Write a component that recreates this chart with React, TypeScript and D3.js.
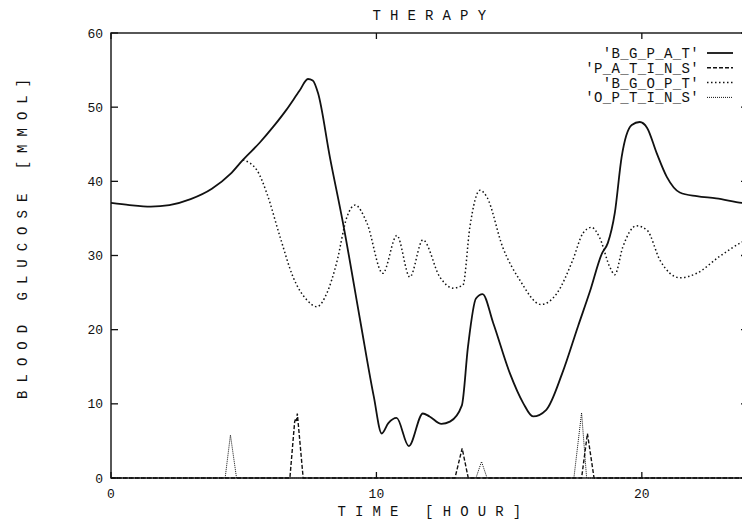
import React from 'react';
import * as d3 from 'd3';

// glucose of the patient (solid)
const bgpatTime = [0, 0.7, 1.5, 2.2, 3.0, 3.8, 4.5, 4.97, 5.6, 6.1, 6.6, 7.1, 7.42, 7.6, 7.8, 8.25, 8.74, 9.4, 9.9, 10.2, 10.45, 10.76, 11.22, 11.75, 12.0, 12.45, 12.77, 13.22, 13.45, 13.75, 14.0, 14.4, 15.03, 15.53, 15.9, 16.4, 17.0, 17.6, 18.04, 18.5, 18.72, 18.98, 19.24, 19.62, 19.92, 20.2, 20.56, 20.94, 21.43, 22.07, 22.8, 23.77, 24];
const bgpatValue = [37.1, 36.8, 36.6, 36.8, 37.6, 39.0, 41.0, 42.9, 45.2, 47.3, 49.6, 52.2, 53.8, 53.6, 51.9, 43.2, 34.4, 21.0, 11.0, 6.0, 7.4, 8.1, 4.3, 8.7, 8.3, 7.3, 7.6, 9.8, 17.7, 24.2, 24.8, 20.9, 14.1, 10.1, 8.3, 9.2, 14.1, 20.5, 25.1, 30.3, 31.7, 35.7, 43.3, 47.6, 48.0, 47.2, 43.8, 40.6, 38.5, 38.0, 37.7, 37.1, 37.0];

// insulin given to the patient (dashed)
const patinsTime = [0, 6.74, 6.92, 6.96, 6.99, 7.02, 7.24, 12.96, 13.23, 13.46, 17.73, 17.95, 18.2, 24];
const patinsValue = [0, 0, 7.6, 8.0, 7.7, 8.7, 0, 0, 4.0, 0, 0, 6.0, 0, 0];

// optimised glucose (dotted)
const bgoptTime = [4.97, 5.5, 5.87, 6.37, 6.86, 7.38, 7.76, 8.13, 8.5, 8.89, 9.2, 9.64, 10.24, 10.77, 11.26, 11.75, 12.39, 12.88, 13.26, 13.52, 13.9, 14.16, 14.76, 15.4, 16.2, 16.8, 17.4, 17.78, 18.1, 18.4, 18.8, 18.98, 19.28, 19.8, 20.2, 20.68, 21.43, 22.07, 22.9, 23.77, 24];
const bgoptValue = [42.9, 41.5, 38.4, 32.5, 27.1, 24.0, 23.1, 24.9, 29.0, 35.2, 36.8, 34.4, 27.6, 32.7, 27.1, 32.1, 27.1, 25.6, 26.0, 33.8, 38.8, 37.9, 31.1, 26.7, 23.4, 24.9, 29.4, 33.0, 33.8, 32.5, 28.4, 27.4, 31.1, 34.0, 33.4, 29.4, 27.0, 27.6, 29.8, 31.8, 32.2];

// optimised insulin (fine dots)
const optinsTime = [0, 4.3, 4.5, 4.73, 13.75, 13.96, 14.17, 17.44, 17.73, 17.92, 24];
const optinsValue = [0, 0, 5.8, 0, 0, 2.2, 0, 0, 8.8, 0, 0];

const xTicks = [0, 10, 20];
const yTicks = [0, 10, 20, 30, 40, 50, 60];
const legendNames = ["'B_G_P_A_T'", "'P_A_T_I_N_S'", "'B_G_O_P_T'", "'O_P_T_I_N_S'"];
const titleText = 'THERAPY';
const xLabel = 'TIME [HOUR]';
const yLabel = 'BLOOD GLUCOSE [MMOL]';

const font = '"Liberation Mono", "DejaVu Sans Mono", monospace';

// spread letters out the way the old plotter did, keep gaps wide
const spaced = (s: string) => s.split('').join(' ').replace(/ /g, '\u00A0');

export default function App() {
  const x = d3.scaleLinear().domain([0, 24]).range([111, 748]);
  const y = d3.scaleLinear().domain([0, 60]).range([478, 33]);

  const zip = (ts: number[], vs: number[]) => ts.map((t, i) => [t, vs[i]] as [number, number]);

  const smooth = d3.line<[number, number]>()
    .x(d => x(d[0]))
    .y(d => y(d[1]))
    .curve(d3.curveMonotoneX);
  const straight = d3.line<[number, number]>()
    .x(d => x(d[0]))
    .y(d => y(d[1]));

  const series = [
    { path: smooth(zip(bgpatTime, bgpatValue)), dash: 'none', width: 1.8 },
    { path: straight(zip(patinsTime, patinsValue)), dash: '4 2', width: 1.4 },
    { path: smooth(zip(bgoptTime, bgoptValue)), dash: '1.5 2.5', width: 1.5 },
    { path: straight(zip(optinsTime, optinsValue)), dash: '1 1', width: 1.0 },
  ];

  const [x0, x1] = x.range();
  const [y0, y1] = y.range();

  return (
    <svg width={742} height={520} style={{ position: 'absolute', left: 0, top: 0, background: '#fff' }}>
      <g fill="none" stroke="#111">
        {series.map((s, i) => (
          <path key={i} d={s.path || ''} strokeWidth={s.width} strokeDasharray={s.dash} />
        ))}
      </g>

      {/* frame */}
      <rect x={x0} y={y1} width={x1 - x0} height={y0 - y1} fill="none" stroke="#111" strokeWidth={1.4} />

      {/* ticks */}
      <g stroke="#111" strokeWidth={1.3}>
        {yTicks.map(t => (
          <g key={'y' + t}>
            <line x1={x0} x2={x0 + 7} y1={y(t)} y2={y(t)} />
            <line x1={x1 - 7} x2={x1} y1={y(t)} y2={y(t)} />
          </g>
        ))}
        {xTicks.map(t => (
          <g key={'x' + t}>
            <line x1={x(t)} x2={x(t)} y1={y0} y2={y0 - 6} />
            <line x1={x(t)} x2={x(t)} y1={y1} y2={y1 + 6} />
          </g>
        ))}
      </g>

      <g fontFamily={font} fontSize={13} fill="#111">
        {yTicks.map(t => (
          <text key={'yl' + t} x={103} y={y(t)} dy="0.35em" textAnchor="end">{t}</text>
        ))}
        {xTicks.map(t => (
          <text key={'xl' + t} x={x(t)} y={493} dy="0.35em" textAnchor="middle">{t}</text>
        ))}
      </g>

      <g fontFamily={font} fontSize={14} fill="#111" style={{ letterSpacing: '0.35px' }}>
        <text x={(x0 + x1) / 2} y={15} dy="0.35em" textAnchor="middle">{spaced(titleText)}</text>
        <text x={(x0 + x1) / 2} y={511} dy="0.35em" textAnchor="middle">{spaced(xLabel)}</text>
        <text transform="translate(22,239) rotate(-90)" dy="0.35em" textAnchor="middle" style={{ letterSpacing: '-0.2px' }}>
          {spaced(yLabel)}
        </text>
        {legendNames.map((n, i) => (
          <text key={n} x={699} y={53 + i * 14.8} dy="0.35em" textAnchor="end">{n}</text>
        ))}
      </g>

      <g fill="none" stroke="#111">
        {series.map((s, i) => (
          <line key={i} x1={707} x2={733} y1={53 + i * 14.8} y2={53 + i * 14.8}
            strokeWidth={s.width} strokeDasharray={s.dash} />
        ))}
      </g>
    </svg>
  );
}
